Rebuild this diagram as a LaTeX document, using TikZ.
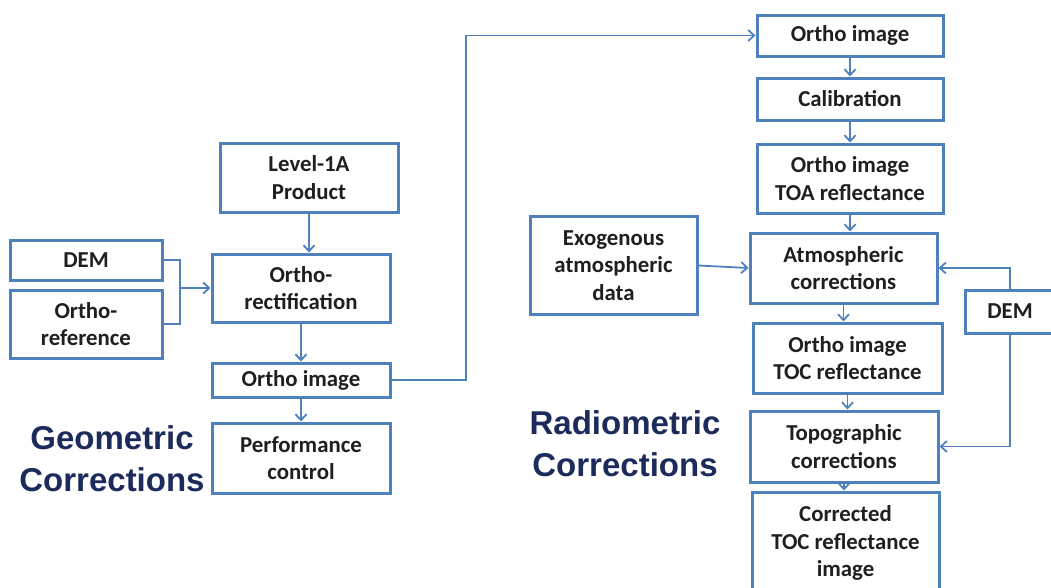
\documentclass[tikz,border=0pt]{standalone}
\usepackage{fontspec}
\setmainfont{Carlito}
\newfontfamily\headfont{Liberation Sans}
\usetikzlibrary{arrows.meta}
\definecolor{boxblue}{HTML}{4F81BD}
\definecolor{headnavy}{HTML}{1C2A5C}
\tikzset{
  box/.style={draw=boxblue, line width=3pt, fill=white, align=center, inner sep=2pt,
    font=\bfseries\fontsize{22.8}{27.5}\selectfont, text=black!88},
  arr/.style={draw=boxblue, line width=1.8pt, -{Straight Barb[length=6pt,width=11pt,line width=1.8pt]}},
  conn/.style={draw=boxblue, line width=1.8pt},
  heading/.style={align=center, text=headnavy, font=\headfont\bfseries\fontsize{33}{42}\selectfont}
}
\begin{document}
\begin{tikzpicture}[x=1pt,y=-1pt]
\useasboundingbox (0,0) rectangle (1051,587);
\begin{scope}
\clip (0,0) rectangle (1051,587);
% left side
\node[box, minimum width=178pt, minimum height=69pt] (l1a) at (309,177.5) {Level-1A\\Product};
\node[box, minimum width=152pt, minimum height=40pt] (demL) at (86,260) {DEM};
\node[box, minimum width=152pt, minimum height=68pt] (oref) at (86,324) {Ortho-\\reference};
\node[box, minimum width=178pt, minimum height=68pt] (orect) at (301,288) {Ortho-\\rectification};
\node[box, minimum width=178pt, minimum height=34pt] (oimgL) at (301,380) {Ortho image};
\node[box, minimum width=178pt, minimum height=70pt] (perf) at (301,458) {Performance\\control};
\node[heading] (geo) at (112,459) {Geometric\\Corrections};
% right side
\node[box, minimum width=186pt, minimum height=41pt] (oimgR) at (850,35.5) {Ortho image};
\node[box, minimum width=186pt, minimum height=42pt] (calib) at (850,99) {Calibration};
\node[box, minimum width=186pt, minimum height=69pt] (toa) at (850,178.5) {Ortho image\\TOA reflectance};
\node[box, minimum width=167pt, minimum height=98pt] (exo) at (613.5,265.5) {Exogenous\\atmospheric\\data};
\node[box, minimum width=187pt, minimum height=70pt] (atm) at (843.5,268) {Atmospheric\\corrections};
\node[box, minimum width=90pt, minimum height=43pt] (demR) at (1010,311.5) {DEM};
\node[box, minimum width=189pt, minimum height=70pt] (toc) at (847.5,358) {Ortho image\\TOC reflectance};
\node[box, minimum width=188pt, minimum height=71pt] (topo) at (844,446.5) {Topographic\\corrections};
\node[box, minimum width=187pt, minimum height=102pt] (corr) at (845.5,543) {Corrected\\TOC reflectance\\image};
\node[heading] (radio) at (625,444) {Radiometric\\Corrections};
% connectors left
\coordinate (j) at (180,288);
\draw[conn] (demL.east) -| (j) |- (oref.east);
\draw[arr] (j) -- (orect.west);
\draw[arr] (l1a.south) -- (l1a.south |- orect.north);
\draw[arr] (orect.south) -- (oimgL.north);
\draw[arr] (oimgL.south) -- (perf.north);
\coordinate (up) at (466,0);
\draw[arr] (oimgL.east) -- (oimgL.east -| up) -- (up |- oimgR.west) -- (oimgR.west);
% connectors right
\draw[arr] (oimgR.south) -- (oimgR.south |- calib.north);
\draw[arr] (calib.south) -- (calib.south |- toa.north);
\draw[arr] (toa.south) -- (toa.south |- atm.north);
\draw[arr] (exo.east) -- (atm.west);
\draw[arr] (atm.south) -- (atm.south |- toc.north);
\draw[arr] (toc.south) -- (toc.south |- topo.north);
\draw[arr] (topo.south) -- (topo.south |- corr.north);
\draw[arr] (demR.north) |- (atm.east);
\draw[arr] (demR.south) |- (topo.east);
\end{scope}
\end{tikzpicture}
\end{document}
